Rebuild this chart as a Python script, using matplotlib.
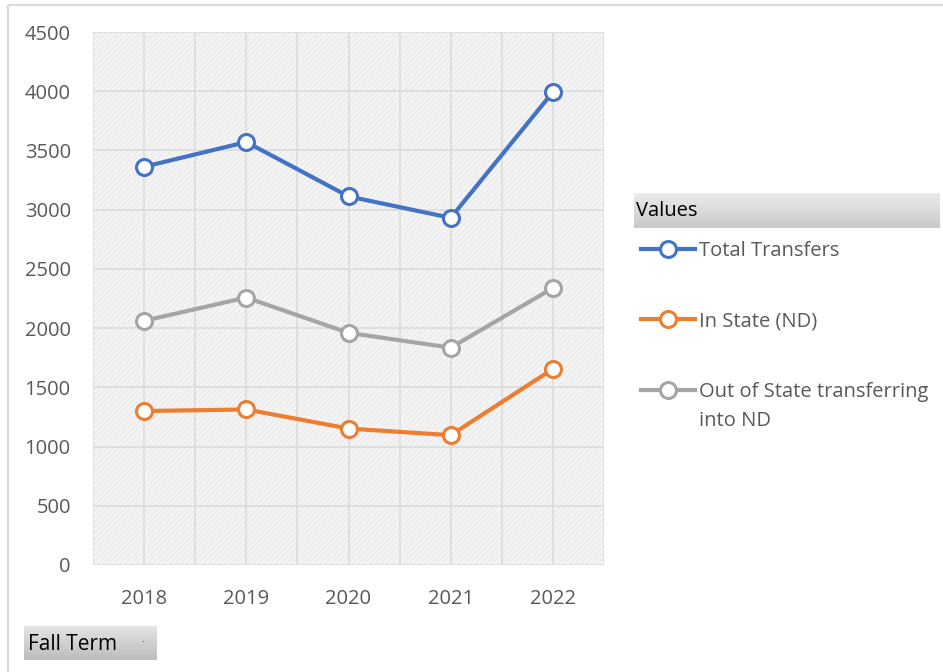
import matplotlib
matplotlib.use("Agg")
import matplotlib.pyplot as plt
import numpy as np
from matplotlib.patches import Rectangle

years = ["2018", "2019", "2020", "2021", "2022"]
total_transfers = [3362, 3571, 3112, 2931, 3993]
in_state = [1300, 1313, 1152, 1096, 1655]
out_of_state = [2062, 2258, 1960, 1835, 2338]
series_labels = ["Total Transfers", "In State (ND)", "Out of State transferring"]
label_continuation = "into ND"
y_ticks = [0, 500, 1000, 1500, 2000, 2500, 3000, 3500, 4000, 4500]

plt.rcParams['font.family'] = ['Open Sans', 'DejaVu Sans']
plt.rcParams['hatch.linewidth'] = 0.6

W, H = 943, 672
fig = plt.figure(figsize=(W / 100, H / 100), dpi=100)
fig.patch.set_facecolor('white')

# overlay in pixel coords for decorations
ov = fig.add_axes([0, 0, 1, 1], zorder=0)
ov.axis('off')
ov.plot([8, W], [5, 5], color='#dadada', lw=1.6, solid_capstyle='butt')
ov.plot([8, 8], [5, H], color='#dadada', lw=1.6, solid_capstyle='butt')

def grad_box(x0, y0, x1, y1, c_top, c_bot):
    g = np.linspace(0, 1, 64)[:, None]
    ct = np.array(matplotlib.colors.to_rgb(c_top))
    cb = np.array(matplotlib.colors.to_rgb(c_bot))
    img = ct[None, None, :] * (1 - g[..., None]) + cb[None, None, :] * g[..., None]
    img = np.repeat(img, 2, axis=1)
    ov.imshow(img, extent=(x0, x1, y1, y0), aspect='auto', interpolation='bilinear', zorder=1)

grad_box(634, 193, 940, 228, '#ececec', '#c9c9c9')
ov.text(636, 211, "Values", fontsize=14.5, color='black', va='center', ha='left', zorder=2)
grad_box(24, 626, 157, 660, '#e4e4e4', '#bdbdbd')
ov.text(28, 644, "Fall Term", fontsize=15, color='black', va='center', ha='left', zorder=2)
ov.text(141, 643, "·", fontsize=8, color='#555555', va='center', ha='left', zorder=2)
ov.set_xlim(0, W)
ov.set_ylim(H, 0)

# main axes
ax = fig.add_axes([93 / W, 1 - 565 / H, 511 / W, 533 / H], zorder=2)
ax.set_facecolor('#f4f4f4')
ax.add_patch(Rectangle((0, 0), 1, 1, transform=ax.transAxes, facecolor='none',
                       edgecolor='#e6e6e6', hatch='//////', lw=0, zorder=0))
x = np.arange(len(years))
ax.set_xlim(-0.5, len(years) - 0.5)
ax.set_ylim(0, 4500)
ax.set_yticks(y_ticks)
ax.set_xticks(x)
ax.set_xticklabels(years)
ax.set_xticks(np.arange(-0.5, len(years), 1.0), minor=True)
ax.grid(True, which='major', color='#dcdcdc', lw=1.2)
ax.grid(True, which='minor', axis='x', color='#dcdcdc', lw=1.2)
ax.set_axisbelow(True)
for s in ax.spines.values():
    s.set_visible(False)
ax.tick_params(which='both', length=0)
ax.tick_params(axis='y', pad=16, labelsize=14.5, labelcolor='#595959')
ax.tick_params(axis='x', pad=17, labelsize=14.5, labelcolor='#595959')

colors = ['#4472c4', '#ed7d31', '#a5a5a5']
series = [total_transfers, in_state, out_of_state]
handles = []
for vals, c, lab in zip(series, colors, series_labels):
    h, = ax.plot(x, vals, color=c, lw=3.0, marker='o', markersize=11.5,
                 markerfacecolor='white', markeredgecolor=c, markeredgewidth=2.2,
                 label=lab, clip_on=False, zorder=3)
    handles.append(h)

leg = fig.legend(handles=handles, labels=series_labels, loc='upper left',
                 bbox_to_anchor=(641 / W, 1 - 241 / H), frameon=False,
                 fontsize=14.5, labelcolor='#595959', handlelength=2.7,
                 handletextpad=0.2, labelspacing=2.5, borderpad=0, borderaxespad=0)

# second line of the last legend label, placed under its first line
fig.canvas.draw()
t3 = leg.get_texts()[-1]
bb = t3.get_window_extent()
x_px = bb.x0
y_px = H - bb.y0 + 19
ov.text(x_px, y_px, label_continuation, fontsize=14.5, color='#595959',
        va='center', ha='left', zorder=2)

fig.savefig('out.png', dpi=100, facecolor='white')
